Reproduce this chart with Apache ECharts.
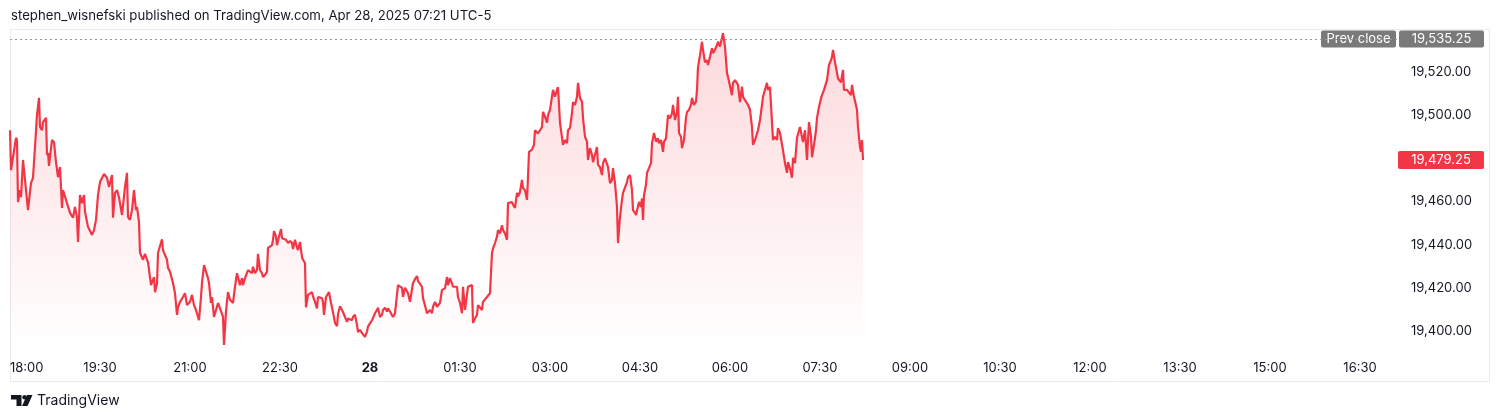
<!DOCTYPE html>
<html><head><meta charset="utf-8">
<script src="https://cdn.jsdelivr.net/npm/echarts@6/dist/echarts.min.js"></script>
<style>html,body{margin:0;padding:0;background:#fff}#c{width:1500px;height:420px}</style>
</head><body><div id="c"></div>
<script>
const MINUTES = [0,1,3,6,7,8,10,11,13,15,18,21,23,25,27,29,30,32,33,36,37,38,39,42,44,46,48,50,52,53,55,57,58,60,62,63,65,67,68,70,72,74,75,77,78,80,82,84,86,88,90,92,94,97,99,102,103,105,107,109,112,113,115,117,118,120,122,124,126,127,129,130,132,133,135,137,138,140,141,143,144,145,147,148,150,152,153,155,157,158,160,162,163,165,167,168,170,172,173,175,177,178,180,182,184,186,188,189,191,192,194,196,198,199,201,202,204,206,208,210,212,213,214,216,218,220,222,223,225,227,228,230,232,233,235,237,238,240,242,243,245,247,248,250,252,253,255,257,258,260,262,263,264,266,267,269,271,272,274,276,278,280,282,283,285,287,288,290,292,293,295,296,298,300,302,303,305,307,308,310,312,313,314,316,318,319,321,323,325,327,328,330,332,333,335,337,338,340,342,343,345,347,348,350,352,353,355,357,358,360,362,363,365,367,368,370,372,373,375,377,378,380,382,383,385,387,388,390,392,393,395,397,398,400,402,403,405,407,408,410,412,413,415,417,418,420,422,423,425,427,428,430,432,433,435,437,438,440,442,443,445,447,448,450,452,453,455,457,458,460,462,463,465,467,468,470,472,473,475,477,478,480,482,483,485,487,488,490,492,493,495,497,498,500,502,503,505,507,508,510,512,513,515,517,518,519,521,522,524,525,527,528,530,532,533,535,537,538,540,542,543,545,547,548,550,552,553,555,557,558,560,562,563,565,567,568,570,572,573,575,577,578,580,582,583,585,587,588,590,592,593,595,597,598,600,602,603,605,607,608,610,612,613,615,617,618,620,622,623,625,626,628,629,631,632,633,634,636,637,639,641,642,644,646,648,649,651,653,654,656,658,660,662,663,665,667,668,669,671,672,674,676,677,679,681,682,684,686,687,688,690,692,693,695,697,698,700,702,703,705,707,708,710,712,713,715,717,718,720,722,723,725,727,728,730,732,733,735,737,738,740,742,743,745,747,748,750,752,753,755,757,758,760,762,763,765,767,768,770,772,773,775,777,778,780,782,783,785,787,788,790,792,793,795,797,798,799,801,802,804,806,807,809,811,812,814,816,817,819,821,822,823,825,827,828,830,831,833,834,836,837,839,841,842,844,846,847,848,850,851,852,853];
const PRICES = [19493.0,19474.5,19474.5,19489.5,19488.5,19459.75,19465.25,19462.0,19479.25,19470.0,19456.0,19468.5,19471.0,19485.25,19500.0,19508.0,19494.5,19493.0,19496.75,19498.75,19481.5,19482.5,19476.5,19488.5,19487.5,19478.25,19471.25,19476.0,19457.0,19465.25,19465.25,19459.25,19460.0,19454.75,19455.25,19452.5,19457.5,19452.5,19441.25,19463.0,19459.25,19463.0,19455.25,19455.25,19448.25,19447.75,19444.5,19446.75,19451.5,19463.0,19469.0,19468.5,19472.75,19471.0,19466.75,19472.25,19452.5,19464.0,19465.25,19462.0,19453.75,19453.75,19466.75,19473.25,19452.75,19451.5,19456.0,19465.25,19456.0,19457.5,19450.5,19436.25,19436.5,19433.0,19435.75,19433.0,19432.0,19431.5,19421.25,19420.5,19425.0,19418.0,19422.0,19436.25,19436.75,19442.5,19437.5,19436.75,19433.0,19429.25,19427.5,19428.25,19422.25,19417.5,19407.5,19411.0,19413.5,19412.75,19415.75,19417.5,19412.0,19411.25,19413.5,19416.75,19412.0,19409.75,19406.5,19405.0,19415.75,19422.25,19430.5,19429.75,19424.5,19422.25,19413.0,19415.75,19406.5,19409.75,19413.0,19410.5,19410.5,19406.5,19393.5,19409.0,19418.0,19414.5,19414.5,19413.0,19420.5,19426.75,19426.0,19421.25,19424.5,19421.25,19424.5,19425.0,19428.25,19429.0,19426.75,19429.75,19426.75,19428.25,19435.75,19428.25,19426.75,19425.0,19426.0,19427.5,19438.5,19438.75,19439.75,19442.25,19446.25,19443.75,19439.75,19443.75,19447.25,19443.0,19443.0,19442.25,19440.75,19441.75,19440.75,19438.0,19442.25,19438.5,19437.5,19441.25,19434.25,19433.0,19431.5,19411.0,19416.75,19416.0,19418.0,19416.0,19413.5,19410.5,19415.75,19415.25,19415.25,19413.5,19407.5,19415.75,19415.25,19418.0,19413.0,19408.75,19403.75,19402.25,19407.75,19411.5,19411.25,19408.75,19406.5,19404.25,19405.75,19406.5,19405.0,19406.5,19407.5,19402.75,19399.5,19400.5,19399.0,19399.75,19397.25,19399.75,19402.0,19403.5,19405.0,19406.0,19408.25,19409.75,19410.75,19406.5,19407.5,19409.75,19410.75,19409.0,19410.5,19409.0,19408.25,19406.5,19408.25,19409.0,19421.25,19420.5,19420.0,19415.75,19420.0,19420.5,19417.5,19413.5,19413.0,19422.25,19424.0,19425.5,19423.25,19423.5,19420.5,19415.25,19414.5,19408.25,19409.0,19409.75,19408.25,19411.25,19413.5,19411.25,19410.5,19413.0,19419.0,19419.25,19419.75,19425.0,19421.25,19424.5,19422.0,19420.5,19421.25,19420.5,19415.75,19413.0,19408.25,19420.5,19409.75,19409.75,19420.5,19420.5,19421.25,19403.75,19405.75,19407.5,19412.0,19411.25,19409.75,19413.5,19413.5,19415.75,19415.75,19417.5,19436.25,19438.25,19440.75,19443.75,19446.75,19445.25,19449.0,19446.75,19445.25,19442.25,19459.25,19458.5,19459.75,19458.5,19457.0,19464.0,19462.25,19464.5,19470.0,19466.25,19465.25,19460.75,19471.25,19483.0,19483.0,19484.0,19486.25,19493.0,19492.25,19491.5,19493.0,19494.5,19501.5,19499.25,19496.5,19500.0,19502.5,19503.25,19511.75,19508.5,19511.75,19513.0,19496.5,19497.0,19486.25,19488.5,19487.0,19493.0,19494.0,19501.0,19506.0,19504.75,19508.5,19515.0,19508.0,19506.25,19498.75,19490.0,19487.75,19479.25,19484.75,19481.5,19478.25,19478.25,19485.25,19477.0,19476.0,19472.25,19477.75,19480.0,19479.25,19476.0,19468.5,19470.0,19475.5,19468.5,19457.5,19440.75,19452.75,19460.75,19464.0,19464.5,19469.0,19471.25,19472.25,19465.25,19456.0,19454.75,19453.75,19453.0,19459.75,19457.5,19461.5,19451.5,19463.0,19467.75,19473.25,19473.75,19477.75,19487.0,19491.75,19487.75,19489.25,19487.0,19488.5,19483.0,19487.75,19489.25,19500.0,19498.5,19500.75,19504.75,19497.75,19501.5,19508.5,19491.75,19490.0,19484.75,19488.5,19498.75,19501.5,19502.5,19504.75,19508.0,19504.75,19506.25,19511.75,19522.25,19527.75,19534.0,19530.25,19524.5,19525.5,19523.25,19524.0,19531.0,19528.75,19530.25,19532.5,19534.0,19531.75,19532.5,19538.0,19531.75,19519.5,19517.75,19517.0,19509.25,19515.0,19516.25,19515.5,19514.0,19506.0,19513.25,19508.5,19507.0,19506.25,19504.75,19502.5,19494.5,19486.25,19488.5,19487.75,19493.0,19497.75,19504.75,19508.5,19509.25,19515.0,19511.75,19513.0,19512.5,19488.5,19490.0,19488.5,19494.0,19491.75,19491.75,19483.75,19477.75,19473.25,19478.25,19475.25,19471.0,19480.25,19477.75,19489.5,19490.0,19494.5,19494.0,19487.5,19493.0,19479.25,19488.5,19496.75,19490.0,19480.5,19486.25,19493.0,19498.75,19503.75,19507.75,19509.25,19511.75,19512.5,19516.25,19523.25,19525.5,19527.0,19530.25,19524.5,19519.5,19517.0,19517.75,19515.25,19521.0,19511.75,19512.5,19511.75,19512.5,19509.25,19514.0,19508.5,19507.75,19502.5,19494.5,19485.25,19483.0,19488.5,19479.25];
const TICK_LABELS = ['18:00','19:30','21:00','22:30','28','01:30','03:00','04:30','06:00','07:30','09:00','10:30','12:00','13:30','15:00','16:30'];
const Y_TICKS = [19400, 19420, 19440, 19460, 19500, 19520];
const PREV_CLOSE = 19535.25;
const LAST_PRICE = 19479.25;
const HEADER = 'stephen_wisnefski published on TradingView.com, Apr 28, 2025 07:21 UTC-5';
const BRAND = 'TradingView';
const PREV_LABEL = 'Prev close';

const FONT = 'Inter, "Noto Sans", "DejaVu Sans", sans-serif';
const TXT = '#131722';
function fmt(v){
  const s = v.toFixed(2); const parts = s.split('.');
  return parts[0].replace(/\B(?=(\d{3})+(?!\d))/g, ',') + '.' + parts[1];
}
const chart = echarts.init(document.getElementById('c'), null, {renderer:'canvas'});
const data = MINUTES.map((m, i) => [m, PRICES[i]]);
chart.setOption({
  animation: false,
  grid: {left: 10, right: 103, top: 29, bottom: 68},
  xAxis: {
    type: 'value', min: 0, max: 1387, interval: 90,
    axisLine: {show: false}, axisTick: {show: false}, splitLine: {show: false},
    axisLabel: {
      margin: 10, color: TXT, fontSize: 13, fontFamily: FONT,
      showMaxLabel: false, alignMinLabel: 'left',
      formatter: function (v) {
        const i = Math.round(v / 90);
        const s = TICK_LABELS[i];
        if (s === undefined || Math.abs(v - i * 90) > 0.01) return '';
        return s === '28' ? '{b|28}' : s;
      },
      rich: {b: {fontWeight: 'bold', fontSize: 13, color: TXT, fontFamily: FONT}}
    }
  },
  yAxis: {
    type: 'value', position: 'right', min: 19390.27, max: 19539.92,
    axisLine: {show: false}, axisTick: {show: false}, splitLine: {show: false},
    axisLabel: {customValues: Y_TICKS, margin: 14, color: TXT, fontSize: 13, fontFamily: FONT, formatter: v => fmt(v)}
  },
  series: [{
    type: 'line', data: data, showSymbol: false, symbol: 'none',
    lineStyle: {color: '#f23645', width: 2.2},
    areaStyle: {color: new echarts.graphic.LinearGradient(0, 0, 0, 1, [
      {offset: 0, color: 'rgba(242,54,69,0.27)'},
      {offset: 1, color: 'rgba(242,54,69,0.0)'}
    ])},
    markLine: {
      silent: true, symbol: ['none', 'none'], label: {show: false},
      lineStyle: {color: '#9598a1', type: [2, 3], width: 1},
      data: [{yAxis: PREV_CLOSE}]
    }
  }]
});

const yPrev = chart.convertToPixel({yAxisIndex: 0}, PREV_CLOSE);
const yLast = chart.convertToPixel({yAxisIndex: 0}, LAST_PRICE);
function box(x, y, w, h, fill, text) {
  return {
    type: 'group', z: 100, silent: true,
    children: [
      {type: 'rect', shape: {x: x, y: y - h / 2, width: w, height: h, r: 2}, style: {fill: fill}},
      {type: 'text', x: x + w / 2, y: y, style: {text: text, fill: '#fff', font: '13px ' + FONT, align: 'center', verticalAlign: 'middle'}}
    ]
  };
}
chart.setOption({
  graphic: [
    {type: 'rect', silent: true, z: 0, shape: {x: 10.5, y: 29.5, width: 1479, height: 352}, style: {fill: 'none', stroke: '#e9ebf0', lineWidth: 1}},
    {type: 'text', silent: true, x: 11, y: 16, style: {text: HEADER, fill: TXT, font: '13.2px ' + FONT, verticalAlign: 'middle'}},
    box(1321, yPrev, 75, 17, '#7a7a7a', PREV_LABEL),
    box(1399, yPrev, 85, 17, '#7a7a7a', fmt(PREV_CLOSE)),
    box(1398, yLast, 86, 18, '#f23645', fmt(LAST_PRICE)),
    {type: 'group', silent: true, x: 11, y: 395, children: [
      {type: 'polygon', shape: {points: [[0,0],[10.5,0],[10.5,11],[5.5,11],[5.5,4.5],[0,4.5]]}, style: {fill: TXT}},
      {type: 'circle', shape: {cx: 13.5, cy: 2.2, r: 2.2}, style: {fill: TXT}},
      {type: 'polygon', shape: {points: [[16,0],[21.5,0],[16.5,11],[11,11]]}, style: {fill: TXT}}
    ]},
    {type: 'text', silent: true, x: 37, y: 401, style: {text: BRAND, fill: TXT, font: '14px ' + FONT, verticalAlign: 'middle'}}
  ]
});
</script></body></html>
